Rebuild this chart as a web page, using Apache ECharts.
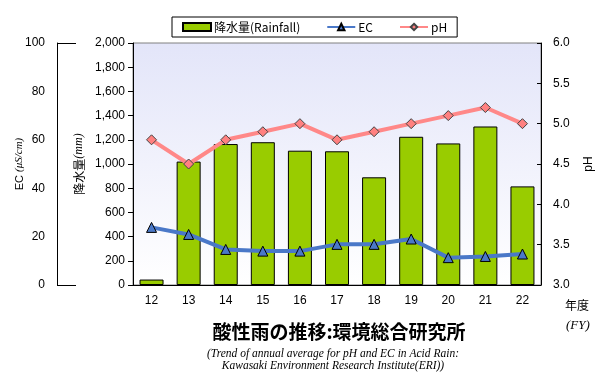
<!DOCTYPE html>
<html>
<head>
<meta charset="utf-8">
<script src="https://cdn.jsdelivr.net/npm/echarts@6/dist/echarts.min.js"></script>
<style>
  html, body { margin: 0; padding: 0; background: #fff; }
  #chart { width: 599px; height: 375px; }
</style>
</head>
<body>
<div id="chart"></div>
<script>
// 年度 (FY, Heisei)
var years = ['12', '13', '14', '15', '16', '17', '18', '19', '20', '21', '22'];
// 降水量 (mm)
var rainfall = [45, 1020, 1165, 1180, 1110, 1105, 890, 1225, 1170, 1310, 815];
// EC (uS/cm)
var ec = [23.8, 20.9, 14.7, 14.0, 14.0, 16.8, 16.8, 19.0, 11.3, 11.8, 12.8];
// pH
var ph = [4.8, 4.5, 4.8, 4.9, 5.0, 4.8, 4.9, 5.0, 5.1, 5.2, 5.0];

var font = 'Liberation Sans, Arial, sans-serif';
var jp = 'Noto Sans CJK JP, sans-serif';

var chart = echarts.init(document.getElementById('chart'));
chart.setOption({
  animation: false,
  backgroundColor: '#fff',
  title: [{
    text: '酸性雨の推移:環境総合研究所',
    left: 334, top: 317, textAlign: 'center',
    textStyle: { fontFamily: jp, fontSize: 19, fontWeight: 'bold', color: '#000' }
  }, {
    text: '(Trend of annual average for pH and EC in Acid Rain:\nKawasaki Environment Research Institute(ERI))',
    left: 328, top: 343, textAlign: 'center',
    textStyle: { fontFamily: 'Liberation Serif, serif', fontSize: 11.5, fontStyle: 'italic',
      fontWeight: 'normal', color: '#000', lineHeight: 12 }
  }],
  legend: {
    left: 172, top: 17, width: 277,
    padding: [4, 10, 4, 10],
    itemGap: 26, itemWidth: 28, itemHeight: 8,
    borderColor: '#000', borderWidth: 1, backgroundColor: '#fff',
    textStyle: { fontFamily: jp, fontSize: 12, color: '#000', padding: [0, 0, 0, -2] },
    data: [
      { name: '降水量(Rainfall)', icon: 'rect' },
      { name: 'EC' },
      { name: 'pH' }
    ]
  },
  grid: {
    left: 133, right: 58, top: 43, bottom: 90,
    outerBoundsMode: 'none',
    show: true, borderColor: '#808080', borderWidth: 1,
    backgroundColor: new echarts.graphic.LinearGradient(0, 0, 0, 1, [
      { offset: 0, color: '#e3e5f9' },
      { offset: 1, color: '#ffffff' }
    ])
  },
  xAxis: {
    type: 'category', data: years,
    axisLine: { lineStyle: { color: '#000', width: 1 } },
    axisTick: { inside: true, length: 4, lineStyle: { color: '#000' } },
    axisLabel: { fontFamily: font, fontSize: 12, color: '#000', margin: 10 }
  },
  yAxis: [{
    type: 'value', position: 'left', min: 0, max: 2000, interval: 200,
    name: '降水量{i|(mm)}', nameLocation: 'middle', nameGap: 48, nameRotate: 90,
    nameMoveOverlap: false,
    nameTextStyle: { fontFamily: jp, fontSize: 12, color: '#000',
      rich: { i: { fontFamily: 'Liberation Serif, serif', fontStyle: 'italic', fontSize: 12 } } },
    axisLine: { show: true, lineStyle: { color: '#000' } },
    axisTick: { show: true, length: 5, lineStyle: { color: '#000' } },
    axisLabel: { fontFamily: font, fontSize: 12, color: '#000', margin: 8,
      formatter: function (v) { return v.toLocaleString('en-US'); } },
    splitLine: { show: false }
  }, {
    type: 'value', position: 'left', offset: 76, min: 0, max: 100, interval: 20,
    name: 'EC {i|(μS/cm)}', nameLocation: 'middle', nameGap: 32, nameRotate: 90,
    nameMoveOverlap: false,
    nameTextStyle: { fontFamily: font, fontSize: 11, color: '#000',
      rich: { i: { fontFamily: 'Liberation Serif, serif', fontStyle: 'italic', fontSize: 11 } } },
    axisLine: { show: true, lineStyle: { color: '#000' } },
    axisTick: { show: true, inside: true, length: 19, customValues: [0, 100], lineStyle: { color: '#000' } },
    axisLabel: { fontFamily: font, fontSize: 12, color: '#000', margin: 12 },
    splitLine: { show: false }
  }, {
    type: 'value', position: 'right', min: 3, max: 6, interval: 0.5,
    name: 'pH', nameLocation: 'middle', nameGap: 42, nameRotate: 90,
    nameTextStyle: { fontFamily: font, fontSize: 12, color: '#000' },
    axisLine: { show: true, lineStyle: { color: '#000' } },
    axisTick: { show: true, inside: true, length: 4, lineStyle: { color: '#000' } },
    axisLabel: { fontFamily: font, fontSize: 12, color: '#000', margin: 12,
      formatter: function (v) { return v.toFixed(1); } },
    splitLine: { show: false }
  }],
  graphic: [{
    type: 'text', left: 565, top: 299,
    style: { text: '年度', font: '12px ' + jp, fill: '#000' }
  }, {
    type: 'text', left: 566, top: 319,
    style: { text: '(FY)', font: 'italic 13px Liberation Serif, serif', fill: '#000' }
  }],
  series: [{
    name: '降水量(Rainfall)', type: 'bar', yAxisIndex: 0, data: rainfall,
    barWidth: 24,
    itemStyle: { color: '#99cc00', borderColor: '#000', borderWidth: 1 }
  }, {
    name: 'EC', type: 'line', yAxisIndex: 1, data: ec,
    symbol: 'triangle', symbolSize: 10,
    lineStyle: { color: '#4a78c8', width: 4 },
    itemStyle: { color: '#4a78c8', borderColor: '#000', borderWidth: 1 }
  }, {
    name: 'pH', type: 'line', yAxisIndex: 2, data: ph,
    symbol: 'diamond', symbolSize: 10,
    lineStyle: { color: '#ff8888', width: 4 },
    itemStyle: { color: '#ff8080', borderColor: '#444', borderWidth: 1 }
  }]
});
</script>
</body>
</html>
